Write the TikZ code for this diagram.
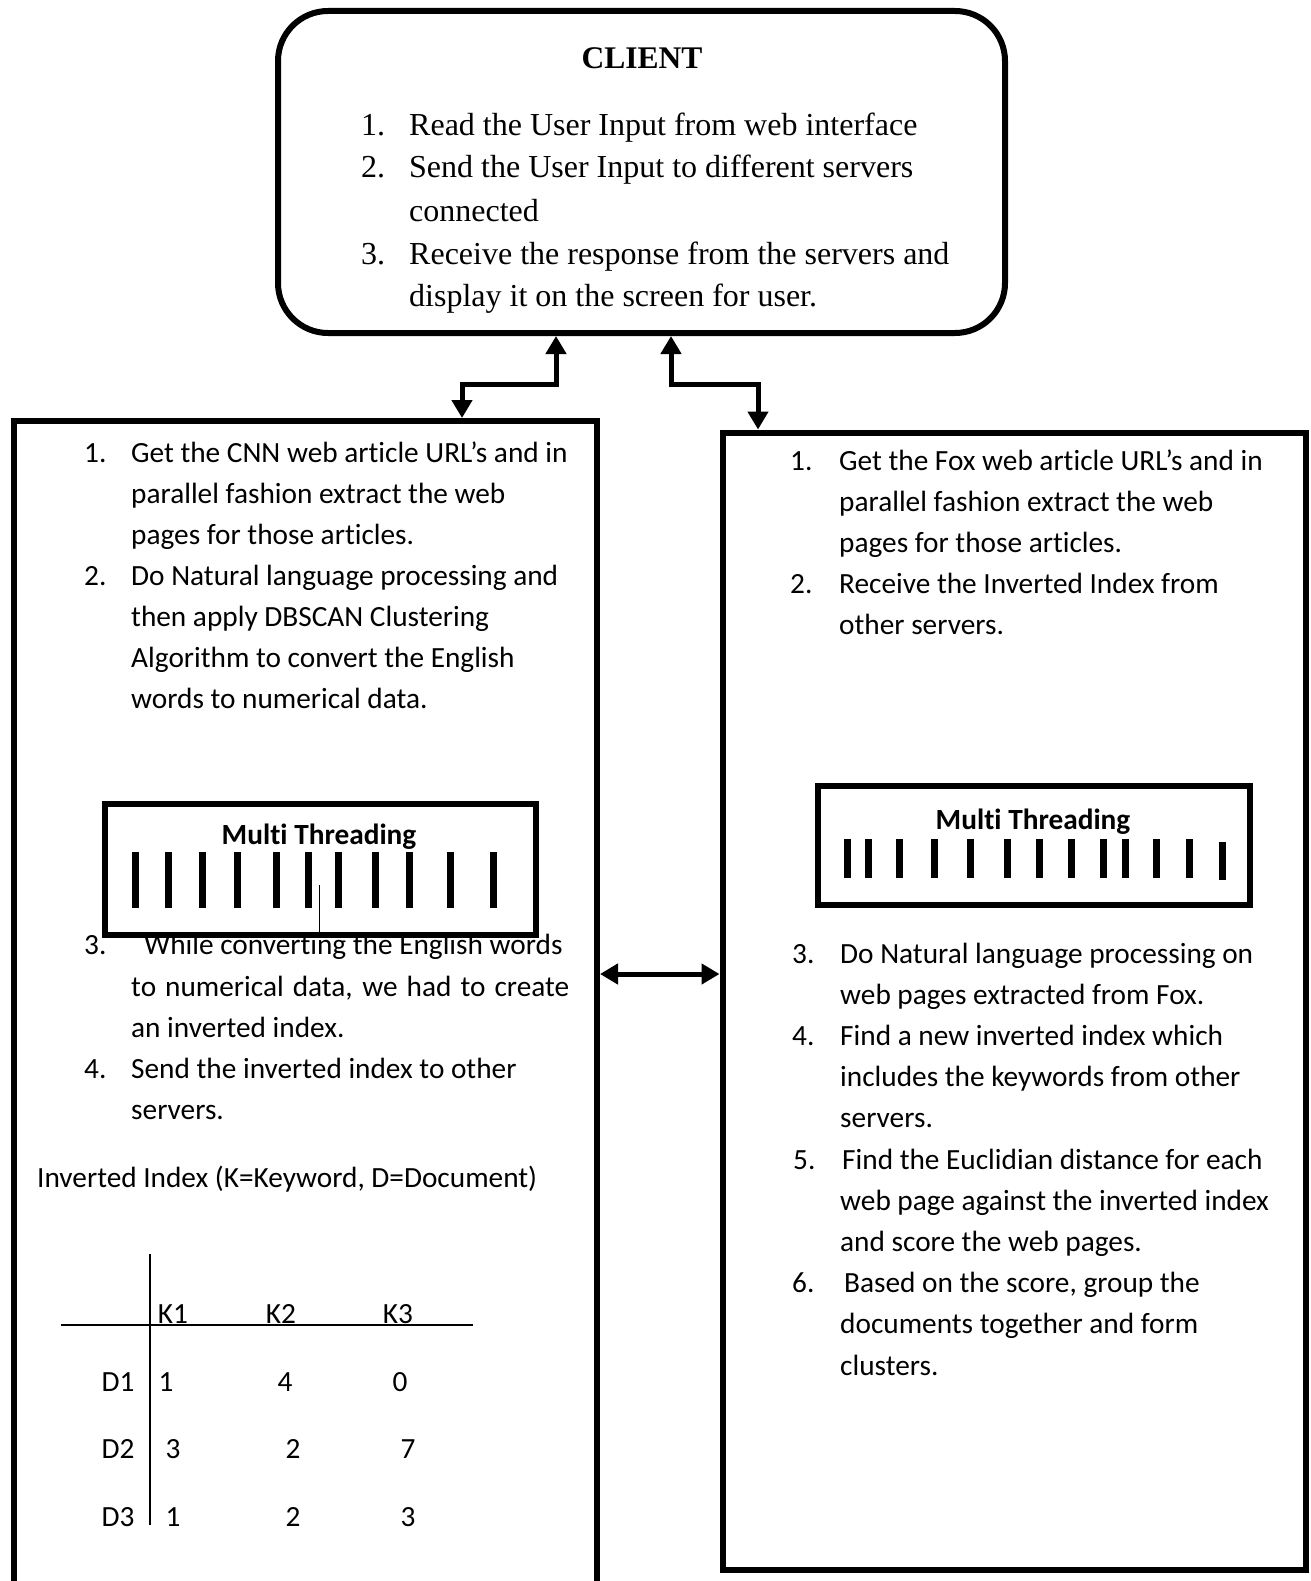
\documentclass[tikz,border=0pt]{standalone}
\usepackage{fontspec}
\setmainfont{Carlito}[Ligatures={NoCommon}]
\newfontfamily\tnr{Liberation Serif}
\usetikzlibrary{arrows.meta}
\tikzset{
  x=1pt, y=-1pt,
  bigbox/.style={draw, line width=6pt, inner sep=0pt, outer sep=0.5\pgflinewidth},
  mtbox/.style={draw, fill=white, line width=6pt, inner sep=0pt},
  txt/.style={anchor=base west, inner sep=0pt, font=\fontsize{29.3}{34}\selectfont},
  ctr/.style={anchor=base, inner sep=0pt, font=\fontsize{29.3}{34}\selectfont},
  ctxt/.style={anchor=base west, inner sep=0pt, font=\tnr\fontsize{32}{40}\selectfont},
  arr/.style={line width=5pt, {Triangle[width=20pt,length=18pt]}-{Triangle[width=20pt,length=18pt]}},
  bar/.style={line width=7pt},
  tline/.style={line width=1.5pt}
}
\begin{document}
\begin{tikzpicture}
\fill[white] (0,0) rectangle (1310,1581);
\path[use as bounding box, clip] (0,0) rectangle (1310,1581);

% CLIENT
\node[bigbox, rounded corners=50pt, minimum width=727pt, minimum height=322pt] (client) at (641.5,172) {};
\node[anchor=base, inner sep=0pt, font=\tnr\bfseries\fontsize{31.5}{40}\selectfont] (ctitle) at (642,69) {CLIENT};
\node[ctxt] (cn1) at (361,136) {1.};
\node[ctxt] (ct1) at (409,136) {Read the User Input from web interface};
\node[ctxt] (cn2) at (361,178) {2.};
\node[ctxt] (ct2) at (409,178) {Send the User Input to different servers};
\node[ctxt] (ct2b) at (409,221) {connected};
\node[ctxt] (cn3) at (361,264) {3.};
\node[ctxt] (ct3) at (409,264) {Receive the response from the servers and};
\node[ctxt] (ct3b) at (409,306) {display it on the screen for user.};

% CNN server box
\node[bigbox, minimum width=583pt, minimum height=1179pt] (cnn) at (305.5,1010.5) {};
\node[txt] (ln1) at (84,462) {1.};
\node[txt] (lt1a) at (131,462) {Get the CNN web article URL’s and in};
\node[txt] (lt1b) at (131,503) {parallel fashion extract the web};
\node[txt] (lt1c) at (131,544) {pages for those articles.};
\node[txt] (ln2) at (84,585) {2.};
\node[txt] (lt2a) at (131,585) {Do Natural language processing and};
\node[txt] (lt2b) at (131,626) {then apply DBSCAN Clustering};
\node[txt] (lt2c) at (131,667) {Algorithm to convert the English};
\node[txt] (lt2d) at (131,708) {words to numerical data.};
\node[txt] (ln3) at (84,954) {3.};
\node[txt] (lt3a) at (144,954) {While converting the English words};
\node[txt] (lt3b) at (131,996) {\makebox[438pt][s]{to numerical data, we had to create}};
\node[txt] (lt3c) at (131,1037) {an inverted index.};
\node[txt] (ln4) at (84,1078) {4.};
\node[txt] (lt4a) at (131,1078) {Send the inverted index to other};
\node[txt] (lt4b) at (131,1119) {servers.};

% Multi threading (left)
\node[mtbox, minimum width=431pt, minimum height=131pt] (mt1) at (320,869) {};
\node[anchor=base, inner sep=0pt, font=\bfseries\fontsize{29.3}{34}\selectfont] (mt1t) at (319,844) {Multi Threading};
\foreach \x in {135,168,202,237,276,308,338,375,409,450,493}
  \draw[bar] (\x,852) -- (\x,908);
\draw[line width=1pt] (319,885) -- (mt1.south -| 319,0);

% inverted index
\node[txt] (inv) at (37,1187) {Inverted Index (K=Keyword, D=Document)};
\draw[tline] (150,1254) -- (150,1525);
\draw[tline] (61,1325) -- (473,1325);
\node[ctr] (k1) at (173,1323) {K1};
\node[ctr] (k2) at (281,1323) {K2};
\node[ctr] (k3) at (398,1323) {K3};
\node[ctr] (d1) at (118,1391) {D1};
\node[ctr] (d2) at (118,1458) {D2};
\node[ctr] (d3) at (118,1526) {D3};
\node[ctr] (v11) at (166,1391) {1};
\node[ctr] (v12) at (285,1391) {4};
\node[ctr] (v13) at (400,1391) {0};
\node[ctr] (v21) at (173,1458) {3};
\node[ctr] (v22) at (293,1458) {2};
\node[ctr] (v23) at (408,1458) {7};
\node[ctr] (v31) at (173,1526) {1};
\node[ctr] (v32) at (293,1526) {2};
\node[ctr] (v33) at (408,1526) {3};

% FOX server box
\node[bigbox, minimum width=583pt, minimum height=1137pt] (fox) at (1014,1001) {};
\node[txt] (rn1) at (790,470) {1.};
\node[txt] (rt1a) at (839,470) {Get the Fox web article URL’s and in};
\node[txt] (rt1b) at (839,511) {parallel fashion extract the web};
\node[txt] (rt1c) at (839,552) {pages for those articles.};
\node[txt] (rn2) at (790,593) {2.};
\node[txt] (rt2a) at (839,593) {Receive the Inverted Index from};
\node[txt] (rt2b) at (839,634) {other servers.};

\node[mtbox, minimum width=432pt, minimum height=119pt] (mt2) at (1034,845.5) {};
\node[anchor=base, inner sep=0pt, font=\bfseries\fontsize{29.3}{34}\selectfont] (mt2t) at (1033,829) {Multi Threading};
\foreach \x in {847,868,899,934,970,1007,1039,1071,1103,1125,1156,1189}
  \draw[bar] (\x,839) -- (\x,878);
\draw[bar] (1222,842) -- (1222,880);

\node[txt] (rn3) at (792,963) {3.};
\node[txt] (rt3a) at (840,963) {Do Natural language processing on};
\node[txt] (rt3b) at (840,1004) {web pages extracted from Fox.};
\node[txt] (rn4) at (792,1045) {4.};
\node[txt] (rt4a) at (840,1045) {Find a new inverted index which};
\node[txt] (rt4b) at (840,1086) {includes the keywords from other};
\node[txt] (rt4c) at (840,1127) {servers.};
\node[txt] (rn5) at (793,1169) {5.};
\node[txt] (rt5a) at (842,1169) {Find the Euclidian distance for each};
\node[txt] (rt5b) at (840,1210) {web page against the inverted index};
\node[txt] (rt5c) at (840,1251) {and score the web pages.};
\node[txt] (rn6) at (792,1292) {6.};
\node[txt] (rt6a) at (844,1292) {Based on the score, group the};
\node[txt] (rt6b) at (840,1333) {documents together and form};
\node[txt] (rt6c) at (840,1375) {clusters.};

% connectors
\coordinate (p1) at (556,384);
\coordinate (p2) at (462,384);
\coordinate (p3) at (671,384);
\coordinate (p4) at (758,384);
\coordinate (h) at (0,974);
\draw[arr] (client.south -| p1) -- (p1) -- (p2) -- (cnn.north -| p2);
\draw[arr] (client.south -| p3) -- (p3) -- (p4) -- (fox.north -| p4);
\draw[arr] (cnn.east |- h) -- (fox.west |- h);
\end{tikzpicture}
\end{document}
